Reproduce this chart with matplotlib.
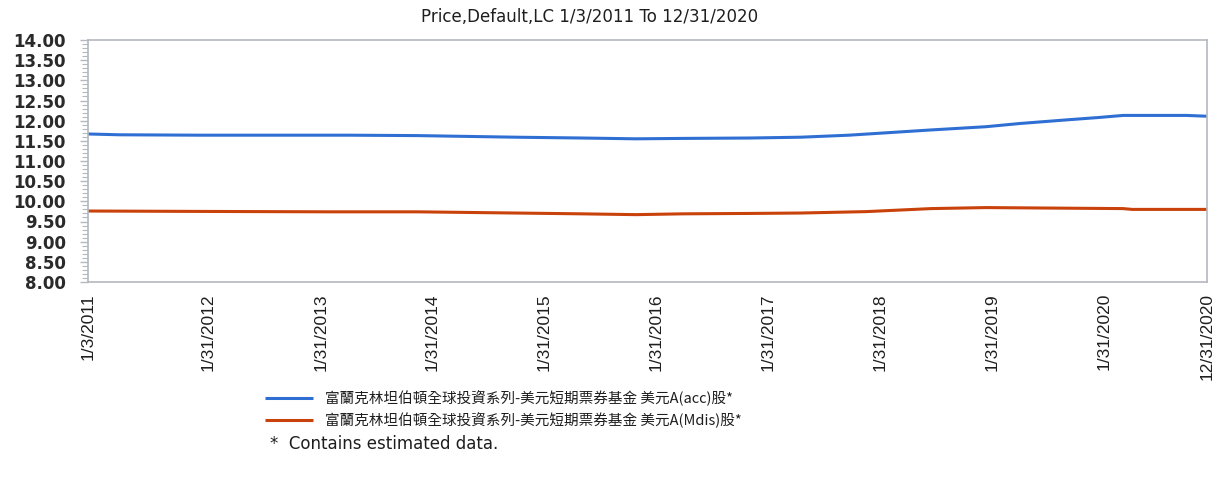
import matplotlib
matplotlib.use("Agg")
import matplotlib.pyplot as plt
from matplotlib.ticker import MultipleLocator
import numpy as np
import pandas as pd

plt.rcParams['font.family'] = ['Noto Sans CJK TC', 'DejaVu Sans']

# Data (dates and NAV)
acc_dates = ["2011-01-03", "2011-04-15", "2012-01-01", "2013-05-01", "2013-12-10",
             "2014-10-30", "2015-06-01", "2015-11-25", "2016-04-25", "2016-12-01",
             "2017-05-15", "2017-10-20", "2018-07-15", "2019-01-10", "2019-05-01",
             "2019-10-01", "2020-01-15", "2020-04-01", "2020-10-25", "2020-12-31"]
acc_values = [11.67, 11.65, 11.64, 11.64, 11.63,
              11.59, 11.57, 11.55, 11.56, 11.57,
              11.59, 11.64, 11.77, 11.85, 11.93,
              12.02, 12.08, 12.13, 12.13, 12.11]

mdis_dates = ["2011-01-03", "2012-01-01", "2013-03-01", "2013-12-10", "2014-10-30",
              "2015-06-01", "2015-11-25", "2016-04-25", "2016-12-01", "2017-05-15",
              "2017-12-15", "2018-07-15", "2019-01-10", "2019-10-01", "2020-04-01",
              "2020-05-01", "2020-12-31"]
mdis_values = [9.76, 9.75, 9.74, 9.74, 9.71,
               9.69, 9.67, 9.69, 9.70, 9.71,
               9.745, 9.82, 9.845, 9.83, 9.82,
               9.80, 9.80]

series_labels = ["富蘭克林坦伯頓全球投資系列-美元短期票券基金 美元A(acc)股*",
                 "富蘭克林坦伯頓全球投資系列-美元短期票券基金 美元A(Mdis)股*"]
xtick_dates = ["2011-01-03", "2012-01-31", "2013-01-31", "2014-01-31", "2015-01-31",
               "2016-01-31", "2017-01-31", "2018-01-31", "2019-01-31", "2020-01-31",
               "2020-12-31"]
xtick_labels = ["1/3/2011", "1/31/2012", "1/31/2013", "1/31/2014", "1/31/2015",
                "1/31/2016", "1/31/2017", "1/31/2018", "1/31/2019", "1/31/2020",
                "12/31/2020"]
yticks = [8.0, 8.5, 9.0, 9.5, 10.0, 10.5, 11.0, 11.5, 12.0, 12.5, 13.0, 13.5, 14.0]
title = "Price,Default,LC 1/3/2011 To 12/31/2020"
note = "*  Contains estimated data."

blue = "#2f6fd3"
red = "#c9410b"
txt = "#1e1e1e"
spine_c = "#b4b8bf"

fig = plt.figure(figsize=(12.27, 4.79), dpi=100)
ax = fig.add_axes([88/1227, 1-282/479, (1207-88)/1227, (282-40)/479])

l1, = ax.plot(pd.to_datetime(acc_dates), acc_values, color=blue, lw=2.2, solid_capstyle='butt')
l2, = ax.plot(pd.to_datetime(mdis_dates), mdis_values, color=red, lw=2.2, solid_capstyle='butt')

ax.set_xlim(pd.Timestamp("2011-01-03"), pd.Timestamp("2020-12-31"))
ax.set_ylim(8, 14)
ax.set_yticks(yticks)
ax.set_yticklabels([f"{v:.2f}" for v in yticks], family=['DejaVu Sans'],
                   fontsize=12, fontweight='bold', color="#2a2a2a")
ax.yaxis.set_minor_locator(MultipleLocator(0.1))
ax.tick_params(axis='y', which='major', length=6, width=1, color=spine_c, pad=10)
ax.tick_params(axis='y', which='minor', length=4, width=0.8, color=spine_c)

ax.set_xticks(pd.to_datetime(xtick_dates))
ax.set_xticklabels(xtick_labels, rotation=90, fontsize=12.5, color=txt,
                   family=['Liberation Sans', 'DejaVu Sans'])
ax.tick_params(axis='x', length=0, pad=8)

for s in ax.spines.values():
    s.set_color(spine_c)
    s.set_linewidth(1.2)

fig.text(590/1227, 1-17/479, title, ha='center', va='center', fontsize=12,
         color=txt, family=['DejaVu Sans'])

fig.legend([l1, l2], series_labels, loc='upper left',
           bbox_to_anchor=(252/1227, 1-377/479), frameon=False, fontsize=10.5,
           handlelength=3.3, handletextpad=0.8, labelspacing=0.45, labelcolor=txt)
fig.text(270/1227, 1-444/479, note, ha='left', va='center', fontsize=12,
         color=txt, family=['DejaVu Sans'])

fig.savefig("out.png", dpi=100)
